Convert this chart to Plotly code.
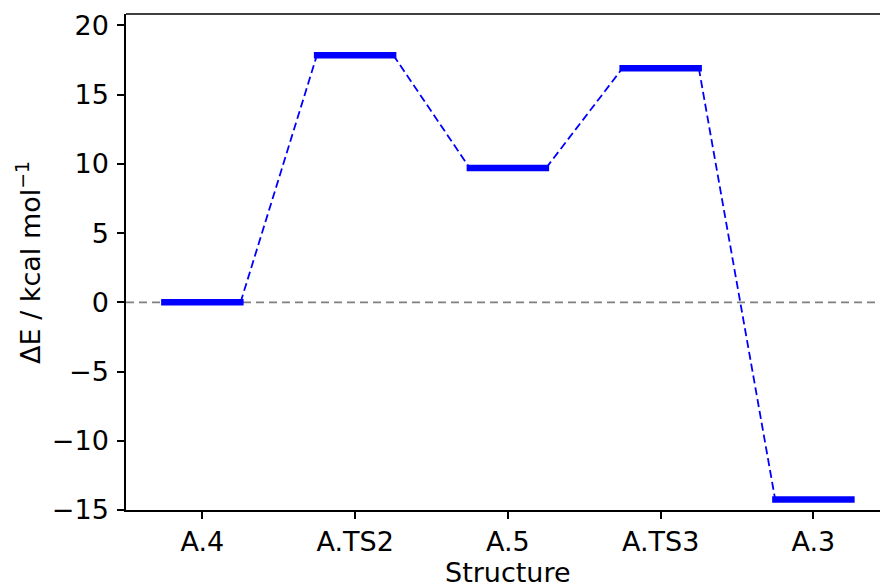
import plotly.graph_objects as go

# Reaction energy profile
structures = ["A.4", "A.TS2", "A.5", "A.TS3", "A.3"]
energies = [0.0, 17.85, 9.7, 16.9, -14.25]  # kcal/mol relative to A.4

y_ticks = [-15, -10, -5, 0, 5, 10, 15, 20]

HALF = 0.27      # half-length of each level bar (x units)
LINK = 0.25      # where the dashed connectors attach

FONT = "DejaVu Sans, Liberation Sans, Arial, sans-serif"
FS = 27

idx = list(range(len(structures)))

# horizontal energy levels
bx, by = [], []
for i, e in zip(idx, energies):
    bx += [i - HALF, i + HALF, None]
    by += [e, e, None]

# dashed connectors between consecutive levels
cx, cy = [], []
for i in idx[:-1]:
    cx += [i + LINK, i + 1 - LINK, None]
    cy += [energies[i], energies[i + 1], None]

fig = go.Figure()

fig.add_shape(type="line", xref="paper", yref="y", x0=0, x1=1, y0=0, y1=0,
              line=dict(color="#7f7f7f", width=1.8, dash="8px,5px"), layer="below")

fig.add_trace(go.Scatter(x=cx, y=cy, mode="lines", hoverinfo="skip",
                         line=dict(color="#0000ff", width=1.8, dash="8px,4px")))
fig.add_trace(go.Scatter(x=bx, y=by, mode="lines",
                         line=dict(color="#0000ff", width=6.5)))

# top spine
fig.add_shape(type="line", xref="paper", yref="paper", x0=0, x1=1, y0=1, y1=1,
              line=dict(color="black", width=1.5))

fig.add_annotation(text="Structure", xref="x", yref="paper", x=2, y=-0.125,
                   xanchor="center", yanchor="middle", showarrow=False,
                   font=dict(family=FONT, size=FS, color="black"))
fig.add_annotation(text="ΔE / kcal mol<sup>−1</sup>", xref="paper", yref="paper",
                   x=-0.13, y=0.5, xanchor="center", yanchor="middle",
                   textangle=-90, showarrow=False,
                   font=dict(family=FONT, size=FS, color="black"))

fig.update_layout(
    width=880, height=587,
    margin=dict(l=126, r=0, t=14, b=77),
    paper_bgcolor="white", plot_bgcolor="white",
    showlegend=False,
    font=dict(family=FONT, size=FS, color="black"),
    xaxis=dict(range=[-0.5, 4.436], tickmode="array", tickvals=idx, ticktext=structures,
               showgrid=False, zeroline=False, showline=True, linecolor="black", linewidth=1.5,
               ticks="outside", ticklen=7, tickwidth=1.5, tickcolor="black",
               tickfont=dict(family=FONT, size=FS, color="black")),
    yaxis=dict(range=[-15, 20.82], tickmode="array", tickvals=y_ticks,
               showgrid=False, zeroline=False, showline=True, linecolor="black", linewidth=1.5,
               ticks="outside", ticklen=7, tickwidth=1.5, tickcolor="black",
               ticklabelstandoff=3,
               tickfont=dict(family=FONT, size=FS, color="black")),
)

fig.write_html("out.html")
